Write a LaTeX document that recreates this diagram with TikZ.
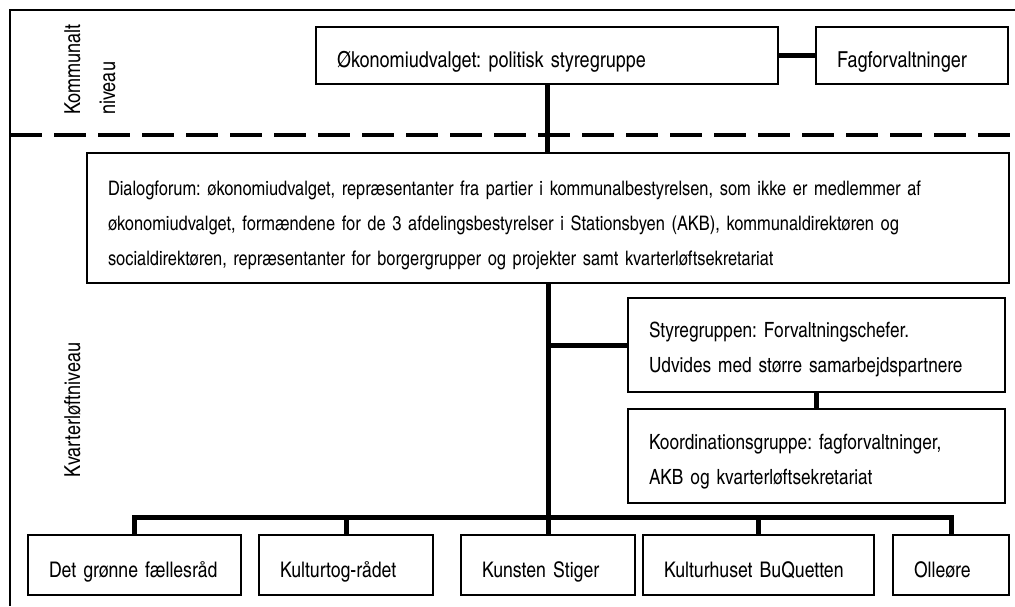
\documentclass[tikz,border=0pt]{standalone}
\usepackage{fontspec}
\setmainfont{texgyreheroscn-regular.otf}
\begin{document}
\frenchspacing
\begin{tikzpicture}[x=1pt,y=-1pt,
  sz/.style={font=\fontsize{#1}{35pt}\selectfont},
  every node/.style={sz=22pt},
  box/.style={draw, line width=1.8pt, inner xsep=21pt, inner ysep=0pt, align=left},
  frameline/.style={line width=2pt},
  divider/.style={line width=4pt, dash pattern=on 32pt off 12pt},
  conn/.style={line width=5pt},
  vlabel/.style={rotate=90, anchor=base west, inner sep=0pt}]
\useasboundingbox[fill=white] (0,0) rectangle (1015,606);

% open frame and the dashed divider between the two levels
\draw[frameline] (1015,10) -- (10,10) -- (10,606);
\coordinate (divL) at (10,135);
\coordinate (divR) at (1015,135);
\draw[divider] (divL) -- (divR);

% level labels
\node[vlabel] (lvl1a) at (80,115) {Kommunalt};
\node[vlabel] (lvl1b) at (115,115) {niveau};
\node[vlabel] (lvl2) at (80,478) {Kvarterløftniveau};

% municipal level
\node[box, text width=420pt, minimum height=57pt, text height=23pt, text depth=0pt]
  (oek) at (547,55.5) {\mbox{Økonomiudvalget: politisk styregruppe}};
\node[box, text width=150pt, minimum height=57pt, text height=23pt, text depth=0pt]
  (fag) at (912,55.5) {\mbox{Fagforvaltninger}};

% neighbourhood level
\node[box, sz=20pt, text width=880pt, minimum height=130pt, text height=12pt, text depth=58pt]
  (dia) at (548,218) {\mbox{Dialogforum: økonomiudvalget, repræsentanter fra partier i kommunalbestyrelsen, som ikke er medlemmer af}\\
  \mbox{økonomiudvalget, formændene for de 3 afdelingsbestyrelser i Stationsbyen (AKB), kommunaldirektøren og}\\
  \mbox{socialdirektøren, repræsentanter for borgergrupper og projekter samt kvarterløftsekretariat}};
\node[box, sz=21pt, text width=335pt, minimum height=94pt, text height=12pt, text depth=28pt]
  (sty) at (816.5,345) {\mbox{Styregruppen: Forvaltningschefer.}\\\mbox{Udvides med større samarbejdspartnere}};
\node[box, sz=21pt, text width=335pt, minimum height=94pt, text height=12pt, text depth=26pt]
  (koo) at (816.5,456) {\mbox{Koordinationsgruppe: fagforvaltninger,}\\\mbox{AKB og kvarterløftsekretariat}};

% project boxes
\tikzset{proj/.style={box, sz=21.5pt, minimum height=60pt, text height=24pt, text depth=0pt}}
\node[proj, text width=171pt] (det) at (134.5,565) {\mbox{Det grønne fællesråd}};
\node[proj, text width=132pt] (kul) at (346,565) {\mbox{Kulturtog-rådet}};
\node[proj, text width=132pt] (kun) at (548,565) {\mbox{Kunsten Stiger}};
\node[proj, text width=189pt] (buq) at (758.5,565) {\mbox{Kulturhuset BuQuetten}};
\node[proj, text width=74pt] (oll) at (951,565) {\mbox{Olleøre}};

% connectors
\coordinate (bus) at (0,517);
\draw[conn] (oek.east) -- (fag.west);
\draw[conn] (oek.south) -- (oek.south |- dia.north);
\draw[conn] (dia.south) -- (kun.north);
\draw[conn] (dia.south |- sty.west) -- (sty.west);
\draw[conn] (sty.south) -- (koo.north);
\draw[conn] (det.north) -- (det.north |- bus) -- (oll.north |- bus) -- (oll.north);
\draw[conn] (kul.north) -- (kul.north |- bus);
\draw[conn] (buq.north) -- (buq.north |- bus);
\end{tikzpicture}
\end{document}
